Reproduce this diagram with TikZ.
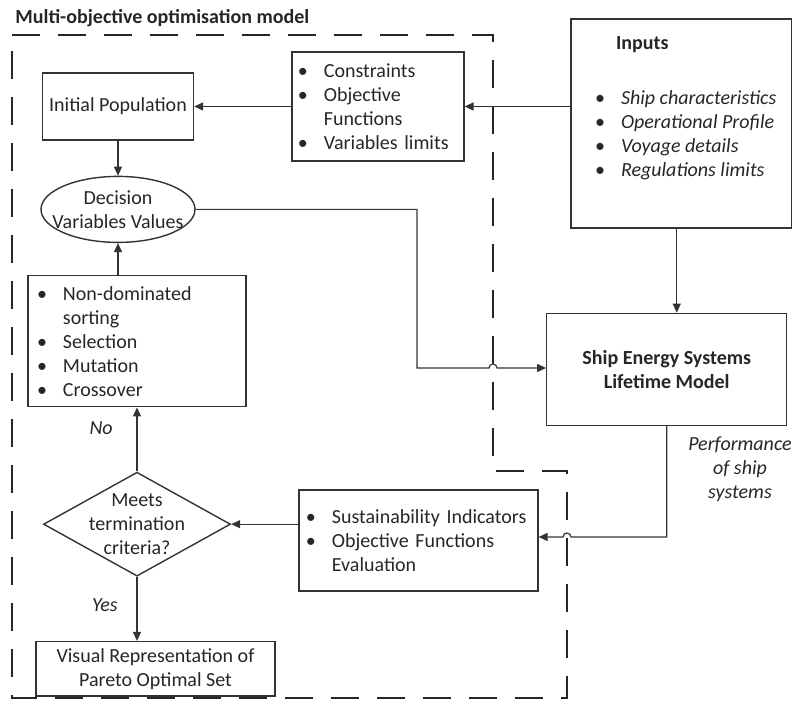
\documentclass[tikz,border=0pt]{standalone}
\usepackage{fontspec}
\setmainfont{Carlito}
\usepackage{tikz}
\usetikzlibrary{arrows.meta,positioning,shapes.geometric}
\newcommand{\itm}{\makebox[13pt][l]{\textbullet}}
\newcommand{\ind}{\hspace*{13pt}}
\newcommand{\dfont}{\fontsize{10}{12}\selectfont}
\tikzset{
    box/.style={rectangle, draw=black!80, line width=0.7pt, align=center,
                text=black!85, font=\dfont},
    lst/.style={box, align=left},
    oval/.style={ellipse, draw=black!80, line width=0.7pt, align=center,
                 text=black!85, font=\dfont, inner xsep=-7pt, inner ysep=-1pt},
    diam/.style={diamond, aspect=1.8, draw=black!80, line width=0.7pt, align=center,
                 text=black!85, font=\dfont, inner xsep=0pt, inner ysep=-6pt},
    ttl/.style={font=\dfont\bfseries, text=black!85, inner sep=0pt},
    lbl/.style={font=\dfont\itshape, text=black!85, align=center},
    arr/.style={-{Triangle[length=4.5pt,width=4pt]}, line width=0.6pt, draw=black!80},
    modelframe/.style={draw=black!85, line width=1.1pt, dash pattern=on 14pt off 9pt},
}
\begin{document}
\begin{tikzpicture}[x=0.5pt, y=0.5pt]
    \useasboundingbox (0,0) rectangle (793,-704);

    % Title and model frame
    \node[ttl, anchor=west] (title) at (15,-18) {Multi-objective optimisation model};
    \draw[modelframe] (12,-35) -- (493,-35) -- (493,-471) -- (567,-471)
                      -- (567,-698) -- (12,-698) -- cycle;

    % Optimisation loop
    \node[box, minimum width=75pt, minimum height=33.5pt] (init) at (118,-106.5) {Initial Population};
    \node[lst, text width=80pt, inner xsep=3pt, minimum height=54.5pt, right=48.5pt of init] (cons)
        {\itm Constraints\\\itm Objective\\\ind Functions\\\itm Variables limits};
    \node[oval, minimum width=77pt, minimum height=33pt, below=17.5pt of init] (dec) {Decision\\Variables Values};
    \node[lst, text width=100pt, inner xsep=4.5pt, minimum height=65.5pt, below=16pt of dec, xshift=9.5pt] (nds)
        {\itm Non-dominated\\\ind sorting\\\itm Selection\\\itm Mutation\\\itm Crossover};
    \node[diam, minimum width=93.5pt, minimum height=52pt, below=32pt of nds] (crit) {Meets\\termination\\criteria?};
    \node[box, minimum width=119.5pt, minimum height=26pt, below=32pt of crit, xshift=9.25pt] (vis)
        {Visual Representation of\\Pareto Optimal Set};
    \node[lst, text width=112.5pt, inner xsep=3.5pt, minimum height=50.5pt, right=33.5pt of crit, yshift=-8.25pt] (sust)
        {\itm Sustainability Indicators\\\itm Objective Functions\\\ind Evaluation};

    % Inputs and ship model
    \node[box, minimum width=110.25pt, minimum height=104.5pt] (inputs) at (681.25,-123.5) {};
    \node[lst, draw=none, inner sep=0pt, anchor=west] (inlist) at ([xshift=12pt, yshift=7.5pt]inputs.west)
        {\hspace*{10.5pt}\textbf{Inputs}\\[15.5pt]\itm\textit{Ship characteristics}\\\itm\textit{Operational Profile}\\
         \itm\textit{Voyage details}\\\itm\textit{Regulations limits}};
    \node[box, font=\dfont\bfseries, minimum width=120pt, minimum height=56pt, below=42pt of inputs, xshift=-7.25pt] (seslm)
        {Ship Energy Systems\\Lifetime Model};
    \node[lbl] (perf) at (740,-469) {Performance\\of ship\\systems};

    \coordinate (bend) at (417,-368);
    \coordinate (hopa) at (493,-368);
    \coordinate (hopb) at (567,-537);

    % Connectors
    \draw[arr] (inputs.west |- cons.east) -- (cons.east);
    \draw[arr] (cons.west) -- (init.east);
    \draw[arr] (init.south) -- (dec.north);
    \draw[arr] (dec.south |- nds.north) -- (dec.south);
    \draw[arr] (crit.north) -- node[lbl, pos=0.67, left=8.5pt]{No} (nds.south);
    \draw[arr] (crit.south) -- node[lbl, pos=0.44, left=6pt]{Yes} (crit.south |- vis.north);
    \draw[arr] (sust.west |- crit.east) -- (crit.east);
    \draw[arr] ([xshift=-2.25pt]inputs.south) -- ([xshift=-2.25pt]inputs.south |- seslm.north);
    \draw[arr] (dec.east) -| (bend) -- ([xshift=-2pt]hopa) arc[start angle=180, end angle=0, radius=2pt]
        -- (seslm.west |- hopa);
    \draw[arr] (seslm.south) |- ([xshift=2pt]hopb) arc[start angle=0, end angle=180, radius=2pt]
        -- (sust.east |- hopb);
\end{tikzpicture}
\end{document}
